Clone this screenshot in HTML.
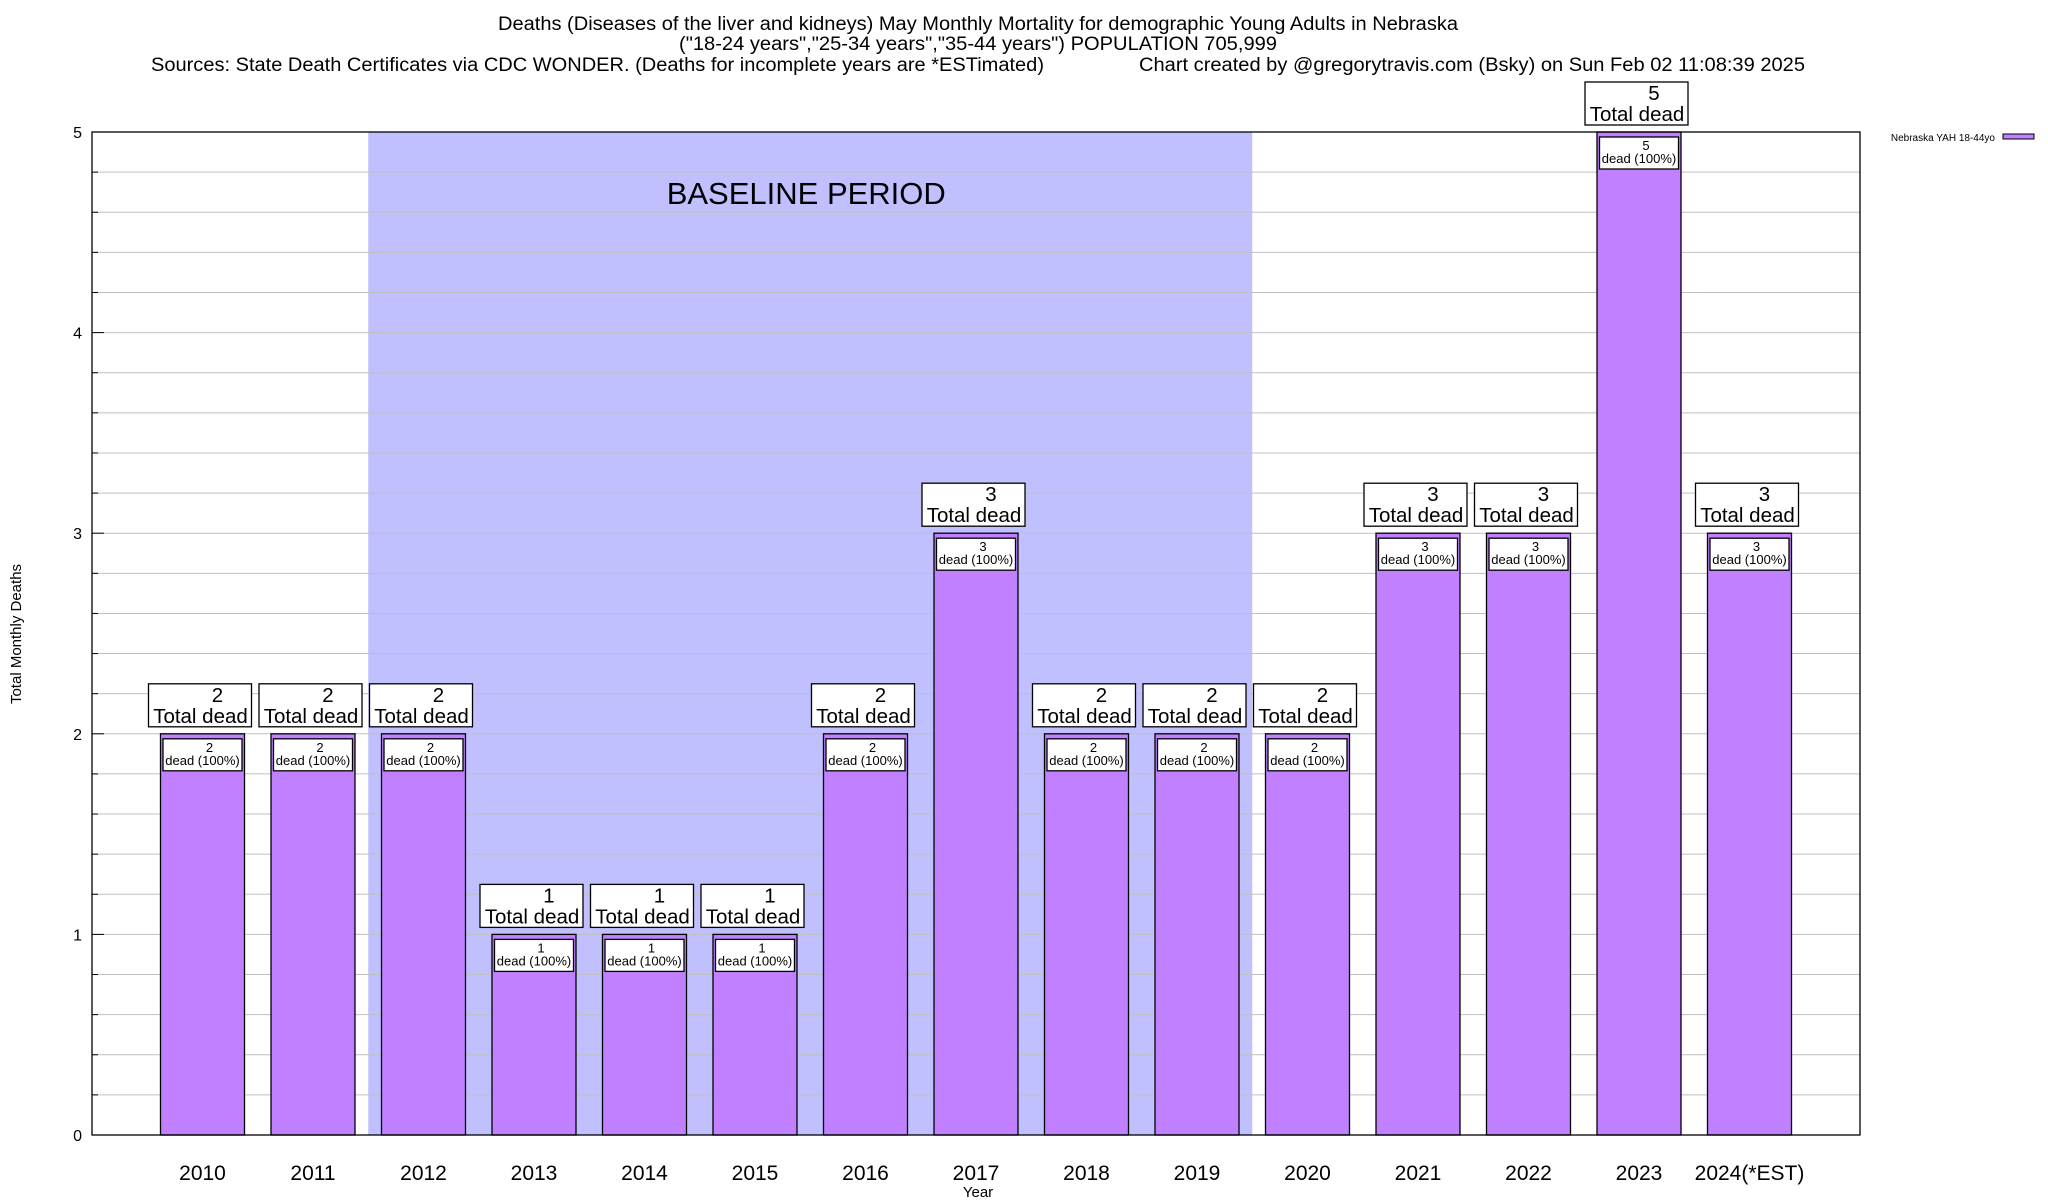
<!DOCTYPE html>
<html><head><meta charset="utf-8"><style>
html,body{margin:0;padding:0;background:#fff;}
svg{display:block;font-family:"Liberation Sans",Arial,sans-serif;}
</style></head><body>
<svg id="chart" width="2048" height="1200" viewBox="0 0 2048 1200" xmlns="http://www.w3.org/2000/svg">
<g font-size="19" text-anchor="middle">
<text x="978" y="30" textLength="960" lengthAdjust="spacingAndGlyphs">Deaths (Diseases of the liver and kidneys) May Monthly Mortality for demographic Young Adults in Nebraska</text>
<text x="978" y="50" textLength="598" lengthAdjust="spacingAndGlyphs">("18-24 years","25-34 years","35-44 years") POPULATION 705,999</text>
<text x="151" y="71" text-anchor="start" textLength="893" lengthAdjust="spacingAndGlyphs">Sources: State Death Certificates via CDC WONDER. (Deaths for incomplete years are *ESTimated)</text>
<text x="1139" y="71" text-anchor="start" textLength="666" lengthAdjust="spacingAndGlyphs">Chart created by @gregorytravis.com (Bsky) on Sun Feb 02 11:08:39 2025</text>
</g>
<g id="plot"></g>
<text x="0" y="0" font-size="15" text-anchor="middle" transform="translate(21,634) rotate(-90)">Total Monthly Deaths</text>
<text x="978" y="1197" font-size="15" text-anchor="middle">Year</text>
<g>
<text x="1995" y="141" font-size="10" text-anchor="end">Nebraska YAH 18-44yo</text>
<rect x="2003" y="134" width="31" height="5" fill="#c080ff" stroke="#000" stroke-width="1"/>
</g>
</svg>
<script>
const categories = ["2010","2011","2012","2013","2014","2015","2016","2017","2018","2019","2020","2021","2022","2023","2024(*EST)"];
const deaths = [2,2,2,1,1,1,2,3,2,2,2,3,3,5,3];
const pctLabels = ["100%","100%","100%","100%","100%","100%","100%","100%","100%","100%","100%","100%","100%","100%","100%"];
const yTicks = [0,1,2,3,4,5];
const baselineRange = [2012, 2019];

const NS = "http://www.w3.org/2000/svg";
const L = 92, R = 1860, T = 132, B = 1135, YMAX = 5;
const xs = i => L + (i + 1) * (R - L) / (categories.length + 1);
const ys = v => B - v * (B - T) / YMAX;
const step = (R - L) / (categories.length + 1);
const plot = document.getElementById('plot');
function mk(tag, attrs, parent, txt) {
  const e = document.createElementNS(NS, tag);
  for (const k in attrs) e.setAttribute(k, attrs[k]);
  if (txt !== undefined) e.textContent = txt;
  (parent || plot).appendChild(e);
  return e;
}
const bi0 = categories.indexOf(String(baselineRange[0])), bi1 = categories.indexOf(String(baselineRange[1]));
const shade = mk('rect', {x: xs(bi0) - step/2, y: T, width: xs(bi1) - xs(bi0) + step, height: B - T, fill: '#c0c0ff'});


const bl = mk('text', {x: (xs(bi0) + xs(bi1)) / 2 - 4, y: 204, 'font-size': 31, 'text-anchor': 'middle'}, plot, 'BASELINE PERIOD');


for (let k = 0; k <= YMAX * 5; k++) {
  const v = k / 5, y = ys(v);
  const g = mk('line', {x1: L, x2: R, y1: y, y2: y, stroke: '#c0c0c0', 'stroke-width': 1});
  
  
  const major = (k % 5 === 0);
  const t = mk('line', {x1: L, x2: L + (major ? 12 : 6), y1: y, y2: y, stroke: '#000', 'stroke-width': 1});
  
  
}
yTicks.forEach(v => {
  const t = mk('text', {x: 82, y: ys(v) + 6, 'font-size': 16, 'text-anchor': 'end'}, plot, String(v));
  
  
});
const bw = 84;
categories.forEach((c, i) => {
  const v = deaths[i], cx = xs(i), y = ys(v);
  const g = mk('g', {});
  
  
  const b = mk('rect', {x: cx - bw/2, y: y, width: bw, height: B - y, fill: '#c080ff', stroke: '#000', 'stroke-width': 1.3}, g);
  
  
  const ib = mk('rect', {x: cx - bw/2 + 2.5, y: y + 5, width: bw - 5, height: 32, fill: '#fff', stroke: '#000', 'stroke-width': 1.3}, g);
  
  
  const n1 = mk('text', {x: cx + 7, y: y + 18, 'font-size': 13, 'text-anchor': 'middle'}, g, String(v));
  
  
  const n2 = mk('text', {x: cx, y: y + 31, 'font-size': 13, 'text-anchor': 'middle'}, g, 'dead (' + pctLabels[i] + ')');
  
  
  const tb = mk('rect', {x: cx - 54, y: y - 50, width: 103, height: 43, fill: '#fff', stroke: '#000', 'stroke-width': 1.3}, g);
  
  
  const t1 = mk('text', {x: cx + 15, y: y - 32, 'font-size': 20.5, 'text-anchor': 'middle'}, g, String(v));
  
  
  const t2 = mk('text', {x: cx - 2, y: y - 11, 'font-size': 20.5, 'text-anchor': 'middle'}, g, 'Total dead');
  
  
  const xl = mk('text', {x: cx, y: 1180, 'font-size': 21, 'text-anchor': 'middle'}, plot, c);
  
  
});
const fr = mk('rect', {x: L, y: T, width: R - L, height: B - T, fill: 'none', stroke: '#000', 'stroke-width': 1.3});


</script>
</body></html>
